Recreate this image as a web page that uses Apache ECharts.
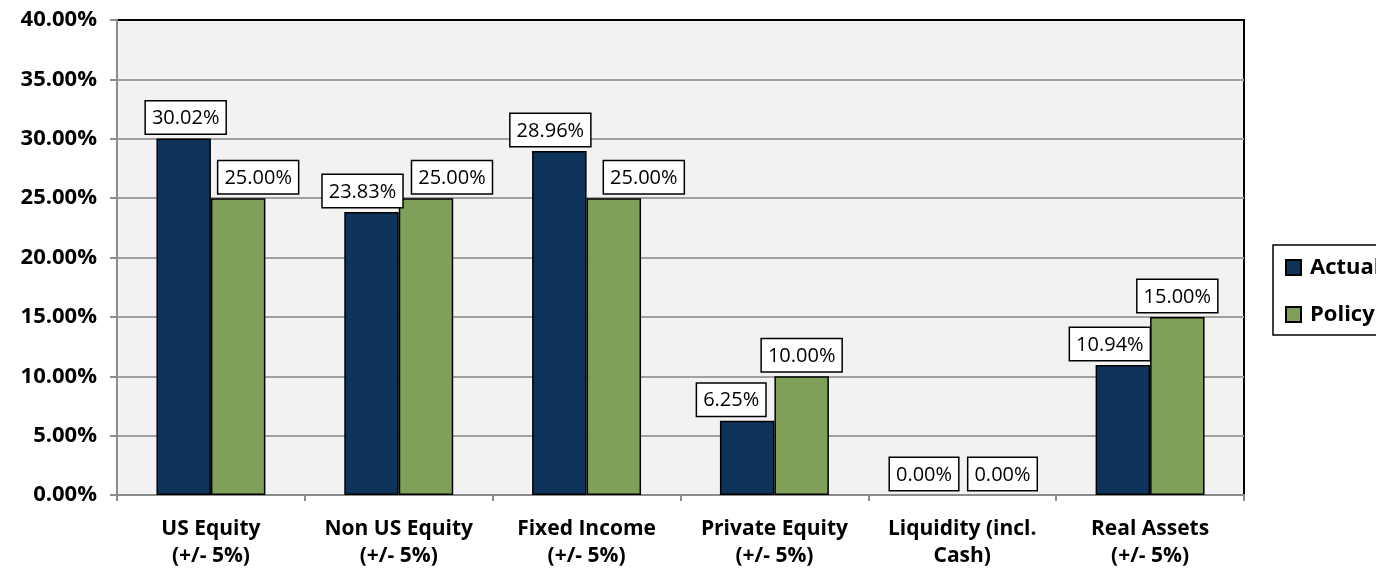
<!DOCTYPE html>
<html><head><meta charset="utf-8">
<script src="https://cdn.jsdelivr.net/npm/echarts@6/dist/echarts.min.js"></script>
<style>html,body{margin:0;padding:0;background:#fff}#c{width:1376px;height:570px}</style>
</head><body><div id="c"></div>
<script>
var categories = ['US Equity\n(+/- 5%)', 'Non US Equity\n(+/- 5%)', 'Fixed Income\n(+/- 5%)', 'Private Equity\n(+/- 5%)', 'Liquidity (incl.\nCash)', 'Real Assets\n(+/- 5%)'];
var actual = [30.02, 23.83, 28.96, 6.25, 0.00, 10.94];
var policy = [25.00, 25.00, 25.00, 10.00, 0.00, 15.00];
var yTicks = {min: 0, max: 40, interval: 5};
// horizontal nudges of the value boxes (as placed in the original)
var actualLabelShift = [2, -9, -9, -16, -11, -13];
var policyLabelShift = [20, 26, 30, 0, 13, 0];

var FONT = '"Open Sans", "Noto Sans", sans-serif';
var labelBase = {
  show: true, position: 'top', distance: 5,
  formatter: function (p) { return p.value.toFixed(2) + '%'; },
  backgroundColor: '#fff', borderColor: '#000', borderWidth: 1.5,
  padding: [5, 6, 3, 6], fontSize: 20, lineHeight: 24, color: '#000', fontFamily: FONT
};
function build(vals, shifts) {
  return vals.map(function (v, i) {
    var item = { value: v, label: { offset: [shifts[i], 0] } };
    if (v === 0) item.itemStyle = { borderWidth: 0 };
    return item;
  });
}
var chart = echarts.init(document.getElementById('c'), null, {renderer: 'canvas'});
chart.setOption({
  animation: false,
  textStyle: {fontFamily: FONT},
  grid: {left: 117, top: 20, right: 132, bottom: 73, show: true, backgroundColor: '#f2f2f2', borderColor: '#000', borderWidth: 2},
  legend: {
    orient: 'vertical', left: 1273, top: 245,
    data: ['Actual', 'Policy'], icon: 'rect', itemWidth: 15, itemHeight: 15, itemGap: 22,
    padding: [10, 60, 8, 12], borderColor: '#000', borderWidth: 1.5, backgroundColor: '#fff',
    textStyle: {fontSize: 22, fontWeight: 'bold', color: '#000', lineHeight: 25, fontFamily: FONT, padding: [0, 0, 0, 4]}
  },
  xAxis: {
    type: 'category', data: categories,
    axisLine: {lineStyle: {color: '#8c8c8c', width: 2}},
    axisTick: {show: true, length: 6, lineStyle: {color: '#8c8c8c', width: 2}},
    axisLabel: {fontSize: 21, fontWeight: 'bold', color: '#000', lineHeight: 27, margin: 21, interval: 0, fontFamily: FONT},
    splitLine: {show: false}
  },
  yAxis: {
    type: 'value', min: yTicks.min, max: yTicks.max, interval: yTicks.interval,
    axisLine: {show: true, lineStyle: {color: '#8c8c8c', width: 2}},
    axisTick: {show: true, length: 7, lineStyle: {color: '#8c8c8c', width: 2}},
    axisLabel: {fontSize: 22, fontWeight: 'bold', color: '#000', margin: 20, fontFamily: FONT,
      formatter: function (v) { return v.toFixed(2) + '%'; }},
    splitLine: {showMaxLine: false, lineStyle: {color: '#a0a0a0', width: 2}}
  },
  series: [
    {name: 'Actual', type: 'bar', data: build(actual, actualLabelShift), barGap: '0%', barCategoryGap: '42%',
      itemStyle: {color: '#0e345c', borderColor: '#000', borderWidth: 1.5}, label: labelBase},
    {name: 'Policy', type: 'bar', data: build(policy, policyLabelShift),
      itemStyle: {color: '#80a05a', borderColor: '#000', borderWidth: 1.5}, label: labelBase}
  ]
});
</script></body></html>
